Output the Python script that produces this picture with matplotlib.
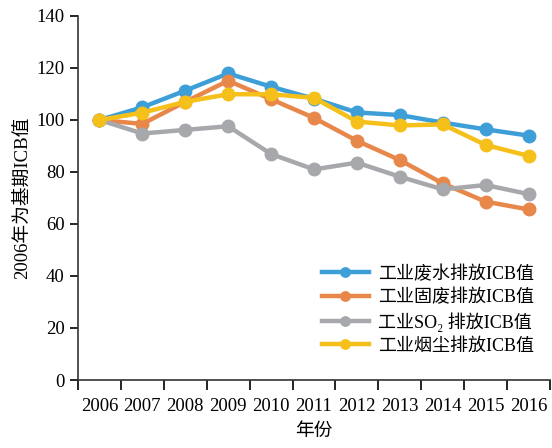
import matplotlib.pyplot as plt

plt.rcParams['font.family'] = ['Liberation Serif', 'Noto Sans CJK SC', 'DejaVu Serif']

years = ['2006', '2007', '2008', '2009', '2010', '2011', '2012', '2013', '2014', '2015', '2016']
water = [100, 104.9, 111.3, 117.9, 112.8, 108.2, 102.9, 101.9, 99.0, 96.4, 94.0]
solid = [100, 98.5, 107.0, 115.1, 108.0, 100.8, 92.0, 84.6, 75.6, 68.6, 65.6]
so2 = [100, 94.8, 96.2, 97.6, 86.9, 81.0, 83.6, 78.2, 73.3, 75.0, 71.5]
dust = [100, 102.8, 107.0, 109.9, 109.9, 108.5, 99.4, 97.9, 98.3, 90.4, 86.2]

names = ['工业废水排放ICB值', '工业固废排放ICB值', '工业SO₂ 排放ICB值', '工业烟尘排放ICB值']
colors = ['#3E9FD8', '#E8874A', '#A6A8AC', '#F6C01A']

fig = plt.figure(figsize=(5.52, 4.48), dpi=100)
ax = fig.add_axes([78 / 552, 1 - 380 / 448, 472 / 552, 364 / 448])

x = list(range(len(years)))
for vals, name, c in zip([water, solid, so2, dust], names, colors):
    ax.plot(x, vals, color=c, lw=3.2, marker='o', ms=9, label=name)

# categories sit between the tick marks
ax.set_xlim(-0.5, len(years) - 0.5)
ax.set_xticks([i - 0.5 for i in range(len(years) + 1)])
ax.set_xticklabels([])
ax.set_xticks(x, minor=True)
ax.set_xticklabels(years, minor=True, fontsize=13.5)
ax.tick_params(axis='x', which='minor', length=0, pad=13)
ax.tick_params(axis='x', which='major', length=7, width=1.2, direction='out')

ax.set_ylim(0, 140)
ax.set_yticks(range(0, 141, 20))
ax.tick_params(axis='y', labelsize=13.5, length=6, width=1.2)

for s in ['top', 'right']:
    ax.spines[s].set_visible(False)
for s in ['left', 'bottom']:
    ax.spines[s].set_linewidth(1.2)
    ax.spines[s].set_color('#333333')

ax.set_xlabel('年份', fontsize=13.5, labelpad=6)
ax.set_ylabel('2006年为基期ICB值', fontsize=13.5, labelpad=4)

ax.legend(loc='lower right', bbox_to_anchor=(1.0, 0.025), frameon=False, fontsize=13,
          handlelength=2.6, handletextpad=0.5, labelspacing=0.33, markerscale=0.75)

fig.savefig('out.png', dpi=100)
